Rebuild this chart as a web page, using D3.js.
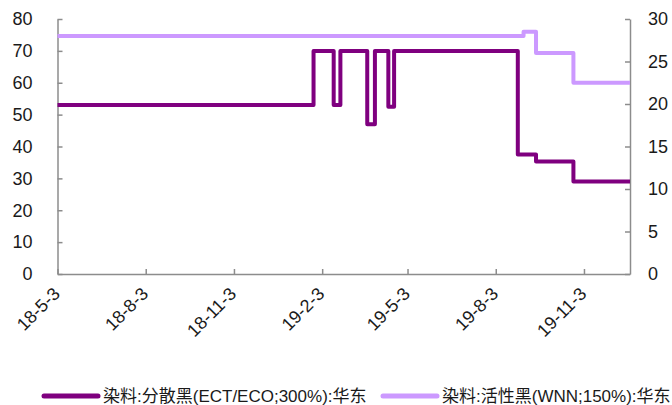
<!DOCTYPE html>
<html><head><meta charset="utf-8">
<script src="https://cdn.jsdelivr.net/npm/d3@7"></script>
<style>
html,body{margin:0;padding:0;background:#fff;}
svg{display:block;font-family:"Liberation Sans",Arial,"Noto Sans CJK SC",sans-serif;}
</style></head>
<body>
<script>
// Step-change points (date, value); each value holds until the next date
const seriesNames = ["染料:分散黑(ECT/ECO;300%):华东", "染料:活性黑(WNN;150%):华东"];
const darkDates  = ["2018-05-03","2019-01-25","2019-02-15","2019-02-22","2019-03-22","2019-03-30","2019-04-13","2019-04-19","2019-08-26","2019-09-14","2019-10-23","2019-12-21"];
const darkValues = [53, 70, 53, 70, 47, 70, 52.5, 70, 37.5, 35.3, 29, 29];
const lightDates  = ["2018-05-03","2019-09-01","2019-09-14","2019-10-23","2019-12-21"];
const lightValues = [28, 28.5, 26, 22.5, 22.5];
const xTickLabels = ["2018-05-03","2018-08-03","2018-11-03","2019-02-03","2019-05-03","2019-08-03","2019-11-03"];
const leftTicks  = [0,10,20,30,40,50,60,70,80];
const rightTicks = [0,5,10,15,20,25,30];
const colors = ["#7f007f", "#cc99ff"];

const W = 672, H = 405;
const m = {left: 57.5, right: 630, top: 19, bottom: 274};
const parse = d3.timeParse("%Y-%m-%d");
const svg = d3.select("body").append("svg").attr("width", W).attr("height", H);

const x = d3.scaleTime().domain([parse("2018-05-03"), parse("2019-12-21")]).range([m.left, m.right]);
const yL = d3.scaleLinear().domain([0, 80]).range([m.bottom, m.top]);
const yR = d3.scaleLinear().domain([0, 30]).range([m.bottom, m.top]);

const axisColor = "#8c8c8c";
function styleAxis(g){
  g.select(".domain").attr("stroke", axisColor).attr("stroke-width", 1.5);
  g.selectAll(".tick line").attr("stroke", axisColor).attr("stroke-width", 1.5);
  g.selectAll(".tick text").attr("fill", "#1a1a1a").style("font-size", "18px");
}

// Left axis
svg.append("g").attr("transform", `translate(${m.left},0)`)
  .call(d3.axisLeft(yL).tickValues(leftTicks).tickSizeInner(-5).tickSizeOuter(0).tickPadding(25))
  .call(styleAxis);
// Right axis
svg.append("g").attr("transform", `translate(${m.right},0)`)
  .call(d3.axisRight(yR).tickValues(rightTicks).tickSizeInner(-5).tickSizeOuter(0).tickPadding(18))
  .call(styleAxis);
// Bottom axis
const gx = svg.append("g").attr("transform", `translate(0,${m.bottom})`)
  .call(d3.axisBottom(x).tickValues(xTickLabels.map(parse)).tickFormat(d3.timeFormat("%y-%-m-%-d")).tickSizeInner(-5).tickSizeOuter(0).tickPadding(0))
  .call(styleAxis);
gx.selectAll(".tick text")
  .attr("text-anchor", "end").attr("dy", null).attr("y", 0)
  .attr("transform", "translate(3,21) rotate(-45)");

// Lines
function stepData(dates, vals){ return dates.map((d,i)=>({d: parse(d), v: vals[i]})); }
const lineL = d3.line().x(d=>x(d.d)).y(d=>yL(d.v)).curve(d3.curveStepAfter);
const lineR = d3.line().x(d=>x(d.d)).y(d=>yR(d.v)).curve(d3.curveStepAfter);

svg.append("path").datum(stepData(lightDates, lightValues))
  .attr("d", lineR).attr("fill","none").attr("stroke", colors[1]).attr("stroke-width", 4).attr("stroke-linejoin","round");
svg.append("path").datum(stepData(darkDates, darkValues))
  .attr("d", lineL).attr("fill","none").attr("stroke", colors[0]).attr("stroke-width", 4).attr("stroke-linejoin","round");

// Legend
const legendX = [44, 383];
seriesNames.forEach((name, i) => {
  const g = svg.append("g").attr("transform", `translate(${legendX[i]},396)`);
  g.append("line").attr("x1", 0).attr("x2", 54).attr("y1", 0).attr("y2", 0)
    .attr("stroke", colors[i]).attr("stroke-width", 5).attr("stroke-linecap","round");
  g.append("text").attr("x", 59).attr("y", 6).style("font-size","17px").attr("fill","#1a1a1a").text(name);
});
</script>
</body></html>
